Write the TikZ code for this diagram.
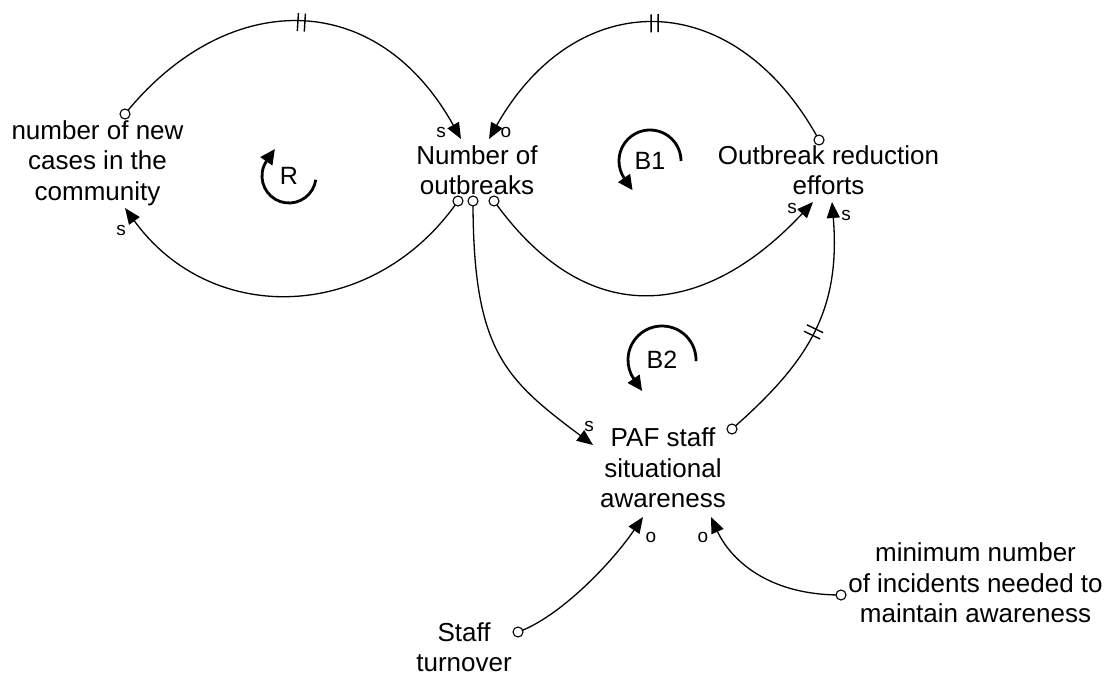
\documentclass[tikz,border=0pt]{standalone}
\usepackage{fontspec}
\setmainfont{Liberation Sans}
\usetikzlibrary{arrows.meta,decorations.markings}
\begin{document}
\begin{tikzpicture}[x=1pt,y=-1pt,
  var/.style={align=center,inner sep=0pt,font=\fontsize{26}{30.5}\selectfont},
  link/.style={line width=1.3pt,-{Triangle[length=16pt,width=13pt]}},
  delaymark/.style={postaction={decorate},decoration={markings,mark=at position #1 with {\draw[-,line width=1.4pt] (-3.5pt,-9pt)--(-3.5pt,9pt) (3.5pt,-9pt)--(3.5pt,9pt);}}},
  tail/.style={circle,draw,fill=white,line width=1.1pt,inner sep=0pt,minimum size=10pt},
  pol/.style={inner sep=0pt,font=\fontsize{19}{19}\selectfont},
  loopname/.style={inner sep=0pt,font=\fontsize{25}{25}\selectfont},
  looparc/.style={line width=2.8pt,-{Triangle[length=15pt,width=14pt]}}
]
\path[use as bounding box,fill=white] (0,0) rectangle (1105,677);

% variables
\node[var] (cases) at (97.5,163) {number of new\\cases in the\\community};
\node[var] (outbreaks) at (477,170) {Number of\\outbreaks};
\node[var] (efforts) at (828.5,170) {Outbreak reduction\\efforts};
\node[var] (awareness) at (663,468) {PAF staff\\situational\\awareness};
\node[var] (turnover) at (464,647) {Staff\\turnover};
\node[var] (minimum) at (975.5,583) {minimum number\\of incidents needed to\\maintain awareness};

% link end points around the variables
\coordinate (cases-out) at (125,114);
\coordinate (cases-in) at (125,208);
\coordinate (outb-in1) at (461,139);
\coordinate (outb-in2) at (489,139);
\coordinate (outb-out1) at (458,201);
\coordinate (outb-out2) at (473,201);
\coordinate (outb-out3) at (494,201);
\coordinate (eff-out) at (819,140);
\coordinate (eff-in1) at (813,202);
\coordinate (eff-in2) at (832,202);
\coordinate (aw-in1) at (593,445);
\coordinate (aw-out) at (732,429);
\coordinate (aw-in2) at (643,517);
\coordinate (aw-in3) at (711,517);
\coordinate (turn-out) at (518,632);
\coordinate (min-out) at (841,595);

% causal links
\draw[link,delaymark=0.5] (cases-out) .. controls (225,-10) and (375,-15) .. (outb-in1);
\draw[link] (outb-out1) .. controls (374,322) and (212,328) .. (cases-in);
\draw[link,delaymark=0.5] (eff-out) .. controls (734,-16) and (576,-15) .. (outb-in2);
\draw[link] (outb-out3) .. controls (593,339) and (711,311.5) .. (eff-in1);
\draw[link] (outb-out2) .. controls (473,351) and (505,379) .. (aw-in1);
\draw[link,delaymark=0.49] (aw-out) .. controls (807,363) and (841,312) .. (eff-in2);
\draw[link] (turn-out) .. controls (560,617) and (612,562.6) .. (aw-in2);
\draw[link] (min-out) .. controls (754,595) and (724,546) .. (aw-in3);

% link tails
\node[tail] (t1) at (cases-out) {};
\node[tail] (t2) at (outb-out1) {};
\node[tail] (t3) at (outb-out2) {};
\node[tail] (t4) at (outb-out3) {};
\node[tail] (t5) at (eff-out) {};
\node[tail] (t6) at (aw-out) {};
\node[tail] (t7) at (turn-out) {};
\node[tail] (t8) at (min-out) {};

% polarities
\node[pol] (s1) at (441,132) {s};
\node[pol] (o1) at (506,132) {o};
\node[pol] (s2) at (121,230) {s};
\node[pol] (s3) at (792,208) {s};
\node[pol] (s4) at (846,215) {s};
\node[pol] (s5) at (589,426) {s};
\node[pol] (o2) at (651,537) {o};
\node[pol] (o3) at (703,537) {o};

% loop identifiers
\node[loopname] (R) at (289,176) {R};
\draw[looparc] ([shift={(8:27)}]R.center) arc[start angle=8,end angle=215,radius=27] -- ++(8,-11.5);
\node[loopname] (B1) at (650,161) {B1};
\draw[looparc] ([shift={(0:31)}]B1.center) arc[start angle=0,end angle=-215,radius=31] -- ++(8,11.5);
\node[loopname] (B2) at (662,360) {B2};
\draw[looparc] ([shift={(2:34)}]B2.center) arc[start angle=2,end angle=-215,radius=34] -- ++(8,11.5);
\end{tikzpicture}
\end{document}
